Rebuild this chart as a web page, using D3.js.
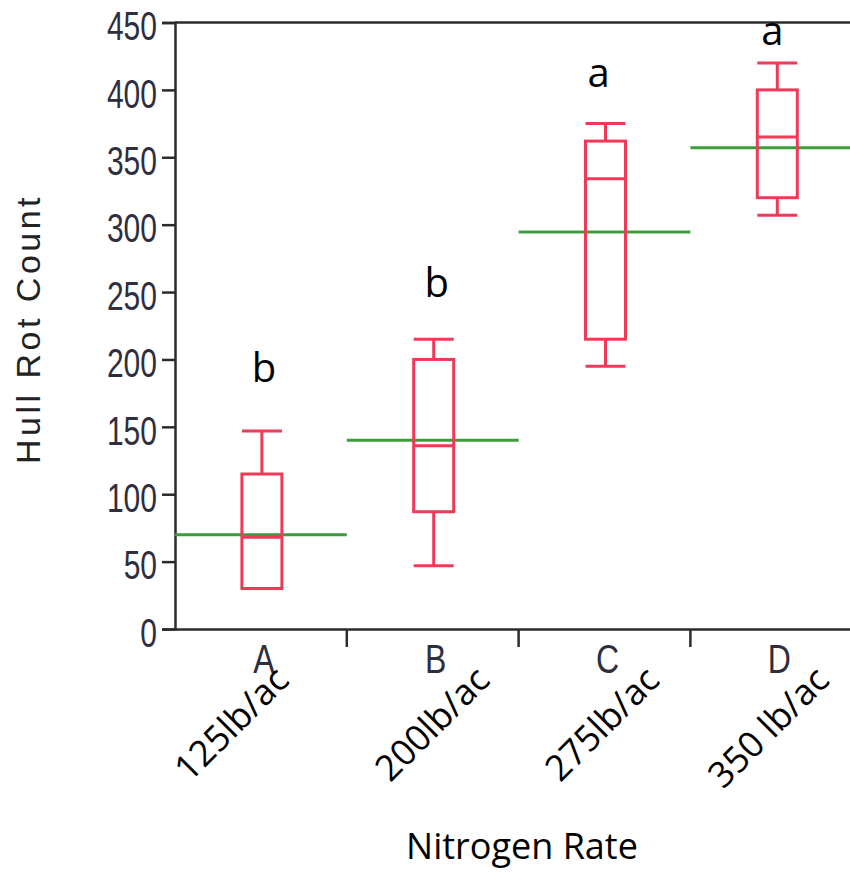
<!DOCTYPE html>
<html>
<head>
<meta charset="utf-8">
<script src="https://cdn.jsdelivr.net/npm/d3@7"></script>
<style>
  body { margin: 0; background: #fff; }
  svg { display: block; }
</style>
</head>
<body>
<div id="graph"></div>
<script>
// data
const groups = ["A", "B", "C", "D"];
const rates = ["125lb/ac", "200lb/ac", "275lb/ac", "350 lb/ac"];
const whiskerLow = [30, 47, 195, 307];
const q1 = [30, 87, 215, 320];
const median = [68, 136, 334, 365];
const q3 = [115, 200, 362, 400];
const whiskerHigh = [147, 215, 375, 420];
const means = [70, 140, 294.5, 357];
const sigLetters = ["b", "b", "a", "a"];
const sigLetterY = [183, 246, 402, 433];
const yTicks = [0, 50, 100, 150, 200, 250, 300, 350, 400, 450];

// set the dimensions of the graph
const W = 850, H = 872;
const margin = {left: 175, top: 22.5, bottom: 629};
// hand placed text boxes in the original are not evenly spaced
const rateDx = [30, 59, 57, 55];
const sigDx = [3, 4, -6, -4];

const svg = d3.select("#graph")
  .append("svg")
    .attr("width", W)
    .attr("height", H);

const x = d3.scaleBand()
  .domain(groups)
  .range([margin.left, margin.left + 4 * 171.8])
  .padding(0);

const y = d3.scaleLinear()
  .domain([0, 450])
  .range([margin.bottom, margin.top]);

const boxW = 40;
const red = "#ee3a58", green = "#3b9e3b", axisCol = "#2b2b2b";
const narrow = "'Liberation Sans', Arial, sans-serif";

// squeeze a label so it looks like a narrow font
function condense(sel, k) {
  sel.each(function() {
    const len = this.getComputedTextLength();
    d3.select(this)
      .attr("textLength", len * k)
      .attr("lengthAdjust", "spacingAndGlyphs");
  });
}

// frame top line
svg.append("line")
  .attr("x1", margin.left).attr("x2", W)
  .attr("y1", y(450)).attr("y2", y(450))
  .attr("stroke", axisCol).attr("stroke-width", 2.5);

// Y axis
const yAxis = svg.append("g")
  .attr("transform", `translate(${margin.left},0)`)
  .call(d3.axisLeft(y).tickValues(yTicks).tickSize(13).tickPadding(5));
yAxis.select(".domain").attr("stroke", axisCol).attr("stroke-width", 2.5);
yAxis.selectAll(".tick line").attr("stroke", axisCol).attr("stroke-width", 2.5);
yAxis.selectAll(".tick text")
  .attr("fill", "#2e2e3e")
  .style("font-family", narrow)
  .style("font-size", "40px")
  .attr("dy", "0.43em")
  .call(condense, 0.75);

// X axis with separator ticks between groups
const xAxis = svg.append("g")
  .attr("transform", `translate(0,${margin.bottom})`)
  .call(d3.axisBottom(x).tickSize(0).tickPadding(16));
xAxis.select(".domain").attr("stroke", axisCol).attr("stroke-width", 2.5);
xAxis.selectAll(".tick text")
  .attr("fill", "#2e2e3e")
  .attr("x", 3)
  .style("font-family", narrow)
  .style("font-size", "40px")
  .call(condense, 0.8);
xAxis.selectAll(".sep")
  .data(groups.slice(1))
  .join("line")
    .attr("class", "sep")
    .attr("x1", d => x(d)).attr("x2", d => x(d))
    .attr("y1", 0).attr("y2", 18)
    .attr("stroke", axisCol).attr("stroke-width", 2.5);

// mean lines
svg.selectAll(".mean")
  .data(groups)
  .join("line")
    .attr("class", "mean")
    .attr("x1", d => x(d))
    .attr("x2", d => x(d) + x.bandwidth())
    .attr("y1", (d, i) => y(means[i]))
    .attr("y2", (d, i) => y(means[i]))
    .attr("stroke", green).attr("stroke-width", 3);

// box plots
const boxes = svg.selectAll(".box")
  .data(groups)
  .join("g")
    .attr("class", "box")
    .attr("transform", d => `translate(${x(d) + x.bandwidth() / 2 + 1},0)`)
    .attr("stroke", red)
    .attr("stroke-width", 3)
    .attr("fill", "none");

boxes.append("line")
  .attr("x1", 0).attr("x2", 0)
  .attr("y1", (d, i) => y(q3[i])).attr("y2", (d, i) => y(whiskerHigh[i]));
boxes.append("line")
  .attr("x1", 0).attr("x2", 0)
  .attr("y1", (d, i) => y(q1[i])).attr("y2", (d, i) => y(whiskerLow[i]));
boxes.append("line")
  .attr("x1", -boxW / 2).attr("x2", boxW / 2)
  .attr("y1", (d, i) => y(whiskerHigh[i])).attr("y2", (d, i) => y(whiskerHigh[i]));
boxes.append("line")
  .attr("x1", -boxW / 2).attr("x2", boxW / 2)
  .attr("y1", (d, i) => y(whiskerLow[i])).attr("y2", (d, i) => y(whiskerLow[i]));
boxes.append("rect")
  .attr("x", -boxW / 2)
  .attr("width", boxW)
  .attr("y", (d, i) => y(q3[i]))
  .attr("height", (d, i) => y(q1[i]) - y(q3[i]));
boxes.append("line")
  .attr("x1", -boxW / 2).attr("x2", boxW / 2)
  .attr("y1", (d, i) => y(median[i])).attr("y2", (d, i) => y(median[i]));

// significance letters
svg.selectAll(".sig")
  .data(groups)
  .join("text")
    .attr("class", "sig")
    .attr("x", (d, i) => x(d) + x.bandwidth() / 2 + sigDx[i])
    .attr("y", (d, i) => y(sigLetterY[i]))
    .attr("text-anchor", "middle")
    .style("font-family", "'Open Sans', sans-serif")
    .style("font-size", "40px")
    .text((d, i) => sigLetters[i]);

// rotated rate labels
svg.selectAll(".rate")
  .data(groups)
  .join("text")
    .attr("class", "rate")
    .attr("transform", (d, i) => `translate(${x(d) + x.bandwidth() / 2 + rateDx[i]},682) rotate(-45)`)
    .attr("text-anchor", "end")
    .style("font-family", "'Open Sans', sans-serif")
    .style("font-size", "36px")
    .text((d, i) => rates[i]);

// axis titles
svg.append("text")
  .attr("transform", `translate(40,${(195 + 463) / 2}) rotate(-90)`)
  .attr("text-anchor", "middle")
  .attr("fill", "#222")
  .style("font-family", narrow)
  .style("font-size", "34px")
  .style("letter-spacing", "3.5px")
  .text("Hull Rot Count");

svg.append("text")
  .attr("x", 522)
  .attr("y", 859)
  .attr("text-anchor", "middle")
  .style("font-family", "'Open Sans', sans-serif")
  .style("font-size", "36px")
  .text("Nitrogen Rate");
</script>
</body>
</html>
